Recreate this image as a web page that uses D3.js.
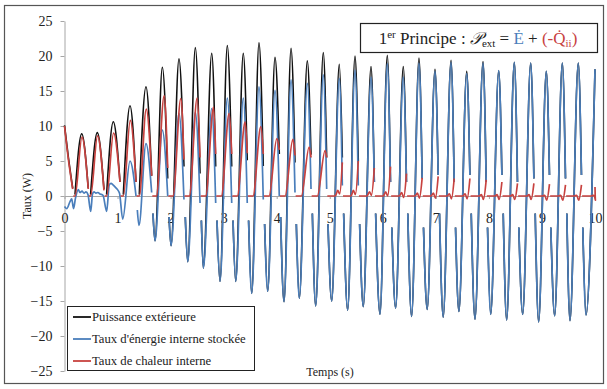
<!DOCTYPE html>
<html>
<head>
<meta charset="utf-8">
<script src="https://d3js.org/d3.v7.min.js"></script>
<style>
body { margin: 0; background: #fff; }
.axis path, .axis line { stroke: #a6a6a6; }
</style>
</head>
<body>
<svg id="chart" width="607" height="389"></svg>
<script>
// --- values (time in s, power in W) ---
// one entry per oscillation cycle (peak of the external power)
var peakT = [0.324,0.618,0.920,1.235,1.536,1.844,2.158,2.466,2.775,3.069,3.370,3.666,3.968,4.270,4.577,4.878,5.180,5.476,5.778,6.085,6.386,6.682,6.984,7.286,7.582,7.889,8.185,8.479,8.788,9.082,9.384,9.685,10.0];
var cutLag = [0.124,0.126,0.126,0.113,0.107,0.102,0.094,0.089,0.075,0.083,0.075,0.081,0.081,0.075,0.070,0.064,0.057,0.062,0.062,0.060,0.060,0.060,0.060,0.060,0.060,0.060,0.060,0.060,0.060,0.060,0.060,0.060,0.0];
var troughT = [0.513,0.795,1.097,1.404,1.706,2.008,2.323,2.617,2.931,3.227,3.529,3.830,4.138,4.426,4.735,5.037,5.338,5.632,5.947,6.242,6.543,6.837,7.139,7.435,7.738,8.034,8.335,8.637,8.938,9.240,9.529,9.831];

// Puissance exterieure
var blackStart = [[0,10.1],[0.072,5.6],[0.155,1.1]];
var blackPeak = [8.9,9.05,10.6,12.9,15.6,18.4,19.6,21.2,20.4,21.5,20.4,21.9,19.8,21.1,19.3,20.5,18.8,20.0,18.5,20.1,18.5,19.7,18.1,19.4,17.8,19.2,17.9,19.1,19.0,17.8,19.0,19.0,18.1];
var blackEnd = [1.1,1.0,2.0,2.0,2.9,2.5,4.2,3.2,4.2,4.2,5.1,4.3,6.0,4.8,5.9,5.5,5.5,5.0,2.0,2.0,2.0,2.5,3.0,2.0,3.0,2.0,3.0,2.0,2.5,3.0,2.5,3.0,18.1];

// Taux d'energie interne stockee
var blueEarlyT = [0,0.041,0.104,0.136,0.170,0.207,0.260,0.292,0.330,0.368,0.405,0.443,0.494,0.528,0.556,0.594,0.631,0.669,0.726,0.795,0.844,0.877,0.914,0.952,0.990,1.037,1.097];
var blueEarlyV = [-1.5,-1.8,-0.8,-0.4,-1.8,-0.3,0.9,0.5,0.7,0.4,0.6,0.2,-2.2,0.3,0.6,0.4,0.5,0.3,0.1,-2.2,1.6,1.8,1.6,1.3,1.0,0.4,-3.3];
var bluePeak = [0.7,0.6,1.8,5.0,7.5,9.4,11.8,12.0,12.5,14.0,14.0,15.6,15.1,16.6,16.1,17.3,16.8,18.0,17.0,18.9,17.0,19.0,17.8,19.1,17.5,19.0,17.9,19.1,19.0,17.8,19.0,19.0,18.1];
var blueCut = [0,0,0,0.0,0.5,0.0,-0.5,-1.0,-1.0,-1.0,-1.0,-0.5,0.0,0.5,1.0,1.0,1.5,1.5,2.0,2.0,2.0,2.5,3.0,2.0,3.0,2.0,3.0,2.0,2.5,3.0,2.5,3.0,0];
var blueResume = [0,0,0,-2.0,-2.5,-3.0,-3.0,-3.5,-3.5,-3.5,-3.5,-4.0,-3.0,-4.0,-2.5,-4.0,-2.5,-4.0,-2.5,-4.5,-2.5,-4.5,-2.5,-4.5,-2.5,-4.5,-2.5,-4.5,-2.5,-4.5,-2.5,-4.5,0];
var blueTrough = [-2.0,-2.0,-3.3,-4.2,-6.4,-7.1,-9.4,-10.3,-12.2,-12.2,-13.9,-13.6,-15.1,-14.6,-15.7,-15.0,-16.3,-15.8,-16.9,-16.0,-17.2,-16.2,-17.3,-16.5,-17.6,-16.9,-17.7,-16.9,-18.0,-17.1,-17.8,-17.0];

// Taux de chaleur interne
var redStart = [[0,10.0],[0.072,5.3],[0.155,1.0]];
var redPeak = [8.4,8.6,9.0,10.8,12.4,14.3,13.9,14.0,12.7,11.8,10.6,9.9,8.2,8.1,7.0,6.5,4.8,5.0,4.0,4.2,3.2,2.6,2.8,2.5,2.5,2.3,2.0,1.8,1.8,1.7,1.6,1.6,1.3];
var redEnd = [1.0,0.8,2.0,2.0,2.9,4.0,5.2,5.5,6.0,6.0,6.1,6.0,6.6,5.8,5.5,5.5,4.8,5.0,4.0,4.2,3.2,2.6,2.8,2.5,2.5,2.3,2.0,1.8,1.8,1.7,1.6,1.6,1.3];
var redBump = [0,0,0,0,0,0,0,0,0,0,0,0,0,0,0,0,0.8,0.8,0.6,0.6,0.5,0.4,0.4,0.3,0.3,0.2,0.2,0.2,0.2,0.1,0.1,0.1,0.1];
var redDip = [0,0,0,0,0,0,0,0,0,0,0,0,0,0,0,0,0.3,0.2,0.1,0,-0.2,-0.3,-0.3,-0.4,-0.4,-0.5,-0.5,-0.5,-0.5,-0.6,-0.6,-0.6,-0.6];

var yTicks = [-25,-20,-15,-10,-5,0,5,10,15,20,25];
var xTicks = [0,1,2,3,4,5,6,7,8,9,10];
var legendNames = ["Puissance extérieure", "Taux d'énergie interne stockée", "Taux de chaleur interne"];
var colors = ["#111111", "#4a7ebb", "#c8423f"];
var serif = "'Liberation Serif', 'DejaVu Serif', serif";

// --- build the point lists (null = gap in the recorded data) ---
var n = peakT.length;
var black = blackStart.slice();
black.push(null);
for (var k = 0; k < n; k++) {
  if (k < 5) {
    black.push([peakT[k] - 0.126, 0.2]);
  } else {
    // follow the stored-energy curve from its restart so both rise together
    black.push([peakT[k-1] + cutLag[k-1] + 0.025, blueResume[k-1]]);
    black.push([troughT[k-1], blueTrough[k-1]]);
  }
  black.push([peakT[k], blackPeak[k]]);
  if (k < n - 1) black.push([peakT[k] + cutLag[k], blackEnd[k]]);
  black.push(null);
}

var blue = blueEarlyT.map(function(t, i) { return [t, blueEarlyV[i]]; });
for (var k = 3; k < n; k++) {
  blue.push([peakT[k], bluePeak[k]]);
  if (k < n - 1) {
    blue.push([peakT[k] + cutLag[k], blueCut[k]]);
    blue.push(null);
    blue.push([peakT[k] + cutLag[k] + 0.025, blueResume[k]]);
    blue.push([troughT[k], blueTrough[k]]);
  }
}

var red = redStart.slice();
red.push(null);
var prevEnd = 0.155;
for (var k = 0; k < n; k++) {
  red.push([prevEnd + 0.012, 0]);
  if (k < 16) {
    red.push([peakT[k] - (k < 5 ? 0.126 : 0.113), 0]);
    red.push([peakT[k] + (k < 5 ? 0.005 : 0.035), redPeak[k]]);
    if (k < n - 1) red.push([peakT[k] + cutLag[k], redEnd[k]]);
  } else {
    red.push([peakT[k] - 0.075, 0]);
    red.push([peakT[k] - 0.03, redBump[k]]);
    red.push([peakT[k] + 0.008, redDip[k]]);
    red.push([Math.min(peakT[k] + cutLag[k], 10), redEnd[k]]);
  }
  red.push(null);
  prevEnd = peakT[k] + cutLag[k];
}

// --- drawing ---
var svg = d3.select("#chart");
svg.append("rect").attr("width", 607).attr("height", 389).attr("fill", "#fff");
svg.append("rect")
  .attr("x", 4.5).attr("y", 5.5).attr("width", 599).attr("height", 378)
  .attr("fill", "none").attr("stroke", "#555").attr("stroke-width", 1.2);

var x = d3.scaleLinear().domain([0, 10]).range([64.5, 595]);
var y = d3.scaleLinear().domain([-25, 25]).range([371, 21]);

var yAxis = svg.append("g").attr("class", "axis")
  .attr("transform", "translate(64.5,0)")
  .call(d3.axisLeft(y).tickValues(yTicks).tickSize(4).tickPadding(8).tickSizeOuter(0));
yAxis.selectAll("text").style("font-family", serif).style("font-size", "14px").attr("fill", "#222");

var xAxis = svg.append("g").attr("class", "axis")
  .attr("transform", "translate(0," + y(0) + ")")
  .call(d3.axisBottom(x).tickValues(xTicks).tickSize(3).tickPadding(14).tickSizeOuter(0));
xAxis.selectAll("text").style("font-family", serif).style("font-size", "14px").attr("fill", "#222");

var line = d3.line()
  .defined(function(d) { return d !== null; })
  .x(function(d) { return x(d[0]); })
  .y(function(d) { return y(d[1]); })
  .curve(d3.curveMonotoneX);

[black, blue, red].forEach(function(s, i) {
  svg.append("path").datum(s)
    .attr("d", line)
    .attr("fill", "none")
    .attr("stroke", colors[i])
    .attr("stroke-width", i === 0 ? 1.6 : 1.7)
    .attr("stroke-linejoin", "round");
});

// axis titles
svg.append("text")
  .attr("transform", "translate(31," + y(0) + ") rotate(-90)")
  .attr("text-anchor", "middle")
  .style("font-family", serif).style("font-size", "12px").attr("fill", "#222")
  .text("Taux (W)");
svg.append("text")
  .attr("x", 330).attr("y", 376)
  .attr("text-anchor", "middle")
  .style("font-family", serif).style("font-size", "12px").attr("fill", "#222")
  .text("Temps (s)");

// legend
var leg = svg.append("g");
leg.append("rect")
  .attr("x", 67.5).attr("y", 306.5).attr("width", 187).attr("height", 64)
  .attr("fill", "#fff").attr("stroke", "#222").attr("stroke-width", 1);
legendNames.forEach(function(name, i) {
  var ly = 317 + i * 22;
  leg.append("line")
    .attr("x1", 73).attr("x2", 91).attr("y1", ly).attr("y2", ly)
    .attr("stroke", colors[i]).attr("stroke-width", 1.8);
  leg.append("text")
    .attr("x", 92).attr("y", ly + 4)
    .style("font-family", serif).style("font-size", "12.7px").attr("fill", "#222")
    .text(name);
});

// first principle box
var box = svg.append("g");
box.append("rect")
  .attr("x", 360.5).attr("y", 23.5).attr("width", 237).attr("height", 29)
  .attr("fill", "#fff").attr("stroke", "#222").attr("stroke-width", 1.2);
var eq = box.append("text")
  .attr("x", 478).attr("y", 44)
  .attr("text-anchor", "middle")
  .style("font-family", serif).style("font-size", "17px").attr("fill", "#222");
eq.append("tspan").text("1");
eq.append("tspan").attr("dy", -6).style("font-size", "11px").text("er");
eq.append("tspan").attr("dy", 6).text(" Principe : ");
eq.append("tspan").style("font-style", "italic").text("𝒫");
eq.append("tspan").attr("dy", 3).style("font-size", "11px").text("ext");
eq.append("tspan").attr("dy", -3).text(" = ");
eq.append("tspan").attr("fill", colors[1]).text("Ė");
eq.append("tspan").text(" + ");
eq.append("tspan").attr("fill", colors[2]).text("(-Q̇");
eq.append("tspan").attr("dy", 3).attr("fill", colors[2]).style("font-size", "11px").text("ii");
eq.append("tspan").attr("dy", -3).attr("fill", colors[2]).text(")");
</script>
</body>
</html>
